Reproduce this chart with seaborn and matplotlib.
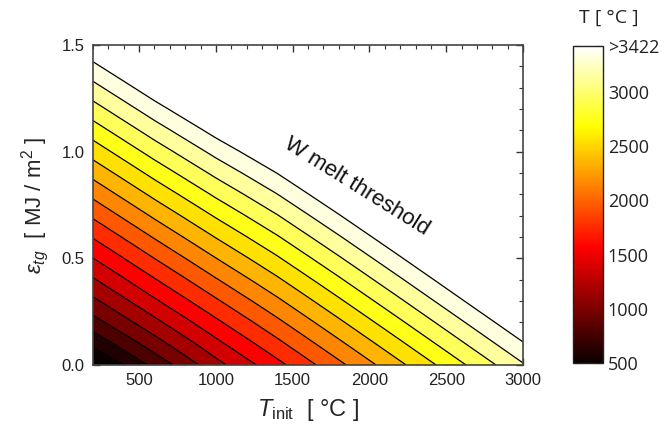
import numpy as np
import matplotlib
matplotlib.use("Agg")
import matplotlib.pyplot as plt
from matplotlib.ticker import MultipleLocator, FixedLocator
import seaborn as sns

# ---- data ----
t_init = [200, 600, 1000, 1400, 1800, 2200, 2600, 3000]           # x grid, deg C
eps_tg = [0.0, 0.1, 0.2, 0.3, 0.4, 0.5, 0.6, 0.7,
          0.8, 0.9, 1.0, 1.1, 1.2, 1.3, 1.4, 1.5]                  # y grid, MJ/m2
# surface temperature (deg C) estimated at each grid node; rows follow eps_tg, columns t_init
t_surf = [
    [248,  748, 1208, 1608, 2008, 2408, 2808, 3208],
    [544,  994, 1416, 1810, 2208, 2607, 3007, 3406],
    [808, 1222, 1624, 2012, 2408, 2806, 3205, 3604],
    [1038, 1441, 1832, 2214, 2608, 3005, 3404, 3802],
    [1256, 1652, 2040, 2416, 2808, 3204, 3602, 4000],
    [1468, 1863, 2248, 2618, 3008, 3403, 3801, 4198],
    [1680, 2074, 2456, 2820, 3208, 3602, 3999, 4396],
    [1892, 2285, 2664, 3022, 3408, 3801, 4198, 4594],
    [2104, 2496, 2872, 3224, 3608, 4000, 4396, 4792],
    [2316, 2707, 3080, 3426, 3808, 4199, 4595, 4990],
    [2528, 2918, 3288, 3628, 4008, 4398, 4793, 5188],
    [2740, 3129, 3496, 3830, 4208, 4597, 4992, 5386],
    [2952, 3340, 3704, 4032, 4408, 4796, 5190, 5584],
    [3164, 3551, 3912, 4234, 4608, 4995, 5389, 5782],
    [3376, 3762, 4120, 4436, 4808, 5194, 5587, 5980],
    [3588, 3973, 4328, 4638, 5008, 5393, 5786, 6178],
]
t_melt = 3422
contour_levels = [302, 497, 692, 887, 1082, 1277, 1472, 1667, 1862,
                  2057, 2252, 2447, 2642, 2837, 3032, 3227, 3422]
cbar_ticks = [500, 1000, 1500, 2000, 2500, 3000, 3422]
cbar_labels = ["500", "1000", "1500", "2000", "2500", "3000", ">3422"]
x_ticks = [500, 1000, 1500, 2000, 2500, 3000]
y_ticks = [0.0, 0.5, 1.0, 1.5]

sns.set_style("ticks")
plt.rcParams["font.family"] = ["Liberation Sans", "DejaVu Sans"]
plt.rcParams["mathtext.fontset"] = "custom"
plt.rcParams["mathtext.rm"] = "Liberation Sans"
plt.rcParams["mathtext.it"] = "Liberation Sans:italic"

fig = plt.figure(figsize=(6.65, 4.38), dpi=100)
ax = fig.add_axes([93/665, 1-365/438, 430/665, 320/438])
cax = fig.add_axes([573/665, 1-363/438, 30/665, 317/438])

norm = matplotlib.colors.Normalize(vmin=500, vmax=t_melt)
cmap = plt.get_cmap("hot")
X, Y = np.meshgrid(t_init, eps_tg)
Z = np.array(t_surf, float)
ax.contourf(X, Y, Z, levels=[200] + contour_levels, cmap=cmap, norm=norm)
ax.contour(X, Y, Z, levels=contour_levels, colors="black", linewidths=0.9)

ax.set_xlim(200, 3000)
ax.set_ylim(0, 1.5)
ax.xaxis.set_major_locator(FixedLocator(x_ticks))
ax.xaxis.set_minor_locator(MultipleLocator(100))
ax.yaxis.set_major_locator(FixedLocator(y_ticks))
ax.yaxis.set_minor_locator(MultipleLocator(0.1))
ax.set_yticklabels([f"{v:.1f}" for v in y_ticks])
ax.tick_params(which="both", direction="in", top=True, right=True,
               labelsize=12, color="#333333", labelcolor="#222222", pad=6)
ax.tick_params(which="major", length=5, width=1.0)
ax.tick_params(which="minor", length=3, width=0.8)
for s in ax.spines.values():
    s.set_color("#444444")
    s.set_linewidth(1.2)

ax.set_xlabel(r"$T_{\rm init}$  [ °C ]", fontsize=17, labelpad=6)
ax.set_ylabel(r"$\varepsilon_{tg}$  [ MJ / m$^{2}$ ]", fontsize=16, labelpad=8)

ax.text(1920, 0.835, "W melt threshold", rotation=-32, rotation_mode="anchor",
        ha="center", va="center", fontsize=16, color="#111111")

sm = matplotlib.cm.ScalarMappable(norm=norm, cmap=cmap)
cb = fig.colorbar(sm, cax=cax)
cb.set_ticks(cbar_ticks)
cb.set_ticklabels(cbar_labels)
cb.outline.set_edgecolor("#222222")
cb.outline.set_linewidth(1.0)
cax.tick_params(direction="in", left=True, right=True, length=5, width=0.8,
                color="#444444", labelsize=13, labelcolor="#222222")
for lab in cax.get_yticklabels():
    lab.set_family(["Open Sans", "DejaVu Sans"])
fig.text(609/665, 1-18/438, "T [ °C ]", ha="center", va="center",
         fontsize=14, family=["Open Sans", "DejaVu Sans"], color="#222222")

fig.savefig("out.png", dpi=100)
